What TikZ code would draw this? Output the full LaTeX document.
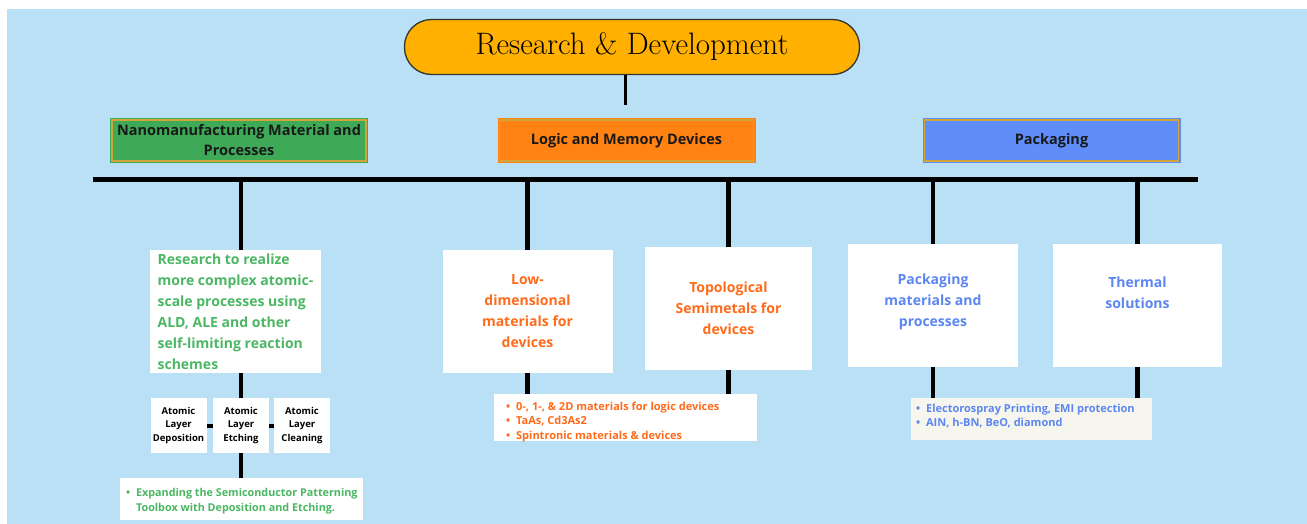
\documentclass[tikz,border=0pt]{standalone}
\usepackage{fontspec}
\newfontfamily\opensans{Open Sans}

\definecolor{bgblue}{HTML}{B9E0F5}
\definecolor{pillgold}{HTML}{FFB000}
\definecolor{hdrgreen}{HTML}{3EAA58}
\definecolor{hdrorange}{HTML}{FF8213}
\definecolor{hdrblue}{HTML}{5F8DF9}
\definecolor{rimgold}{HTML}{D2A53A}
\definecolor{txtgreen}{HTML}{4BB763}
\definecolor{txtorange}{HTML}{FF6B1A}
\definecolor{txtblue}{HTML}{5C86F2}
\definecolor{cream}{HTML}{F7F6EE}

\newcommand{\bul}{\textbullet\hspace{6pt}}

\tikzset{
  hdr/.style={draw=#1, fill=#1, double=rimgold, double distance=1.2pt, line width=1.4pt,
    minimum width=254pt, minimum height=41pt, inner sep=0pt, align=center, text=black!90,
    font=\opensans\bfseries\fontsize{14.5}{20}\selectfont},
  card/.style={fill=white, minimum width=170pt, minimum height=123pt, inner sep=0pt,
    align=center, font=\opensans\bfseries\fontsize{14}{21}\selectfont},
  cardtext/.style={inner sep=0pt, align=center, font=\opensans\bfseries\fontsize{14}{21}\selectfont},
  tiny/.style={fill=white, minimum width=56pt, minimum height=55pt, inner sep=0pt,
    align=center, font=\opensans\bfseries\fontsize{9.5}{13.3}\selectfont},
  note/.style={inner sep=0pt, align=left, font=\opensans\bfseries\fontsize{11}{14.5}\selectfont},
  stem/.style={line width=4.5pt},
}

\begin{document}
\begin{tikzpicture}[x=1pt, y=-1pt]
  \useasboundingbox (0,0) rectangle (1307,524);
  \fill[bgblue] (7,9) rectangle (1307,524);

  % top of the tree
  \node[draw=black!80, fill=pillgold, line width=1.3pt, rounded corners=27pt,
    minimum width=455pt, minimum height=55pt, font=\fontsize{31}{36}\selectfont]
    (rd) at (632,47) {Research \& Development};
  \coordinate (rdend) at (625,105);
  \draw[line width=3pt] (rdend |- rd.south) -- (rdend);

  \node[hdr=hdrgreen] (nano) at (239,140.5) {Nanomanufacturing Material and\\Processes};
  \node[hdr=hdrorange] (logic) at (626.5,140.5) {Logic and Memory Devices};
  \node[hdr=hdrblue] (pack) at (1051.5,140.5) {Packaging};

  \coordinate (barl) at (93,180);
  \coordinate (barr) at (1198,180);
  \draw[line width=5pt] (barl) -- (barr);

  % white cards under the bar
  \node[card, minimum width=171pt, align=left, text=txtgreen] (ald) at (235.5,311.5)
    {Research to realize\\more complex atomic-\\scale processes using\\ALD, ALE and other\\self-limiting reaction\\schemes};
  \node[card, text=txtorange] (lowd) at (527.5,311.5) {Low-\\dimensional\\materials for\\devices};
  \node[card, minimum width=167pt, text=txtorange] (topo) at (728.5,308.5) {Topological\\Semimetals for\\devices};
  \node[card] (pkgmat) at (933,305.5) {};
  \node[cardtext, text=txtblue] at ([yshift=4pt]pkgmat.center) {Packaging\\materials and\\processes};
  \node[card, minimum width=169pt] (therm) at (1137.5,305.5) {};
  \node[cardtext, text=txtblue] at ([yshift=13pt]therm.center) {Thermal\\solutions};

  % atomic layer steps
  \foreach \name/\word/\x in {dep/Deposition/178.5, etch/Etching/241, clean/Cleaning/302}
    \node[tiny] (\name) at (\x,425.5) {Atomic\\Layer\\\word};
  \draw[line width=4pt] (dep.east) -- (etch.west);
  \draw[line width=4pt] (etch.east) -- (clean.west);

  % bullet notes
  \node[fill=white, minimum width=243pt, minimum height=42pt, inner sep=0pt] (gnote) at (241.5,499) {};
  \node[note, text=txtgreen, anchor=west, yshift=-2pt, font=\opensans\bfseries\fontsize{10.8}{14.5}\selectfont]
    at ([xshift=6pt]gnote.west) {\bul Expanding the Semiconductor Patterning\\\hphantom{\bul}Toolbox with Deposition and Etching.};
  \node[fill=white, minimum width=263pt, minimum height=47pt, inner sep=0pt] (onote) at (625.5,417.5) {};
  \node[note, text=txtorange, anchor=west, yshift=-4.5pt] at ([xshift=12pt]onote.west)
    {\bul 0-, 1-, \& 2D materials for logic devices\\\bul TaAs, Cd3As2\\\bul Spintronic materials \& devices};
  \node[fill=cream, minimum width=241pt, minimum height=42pt, inner sep=0pt] (bnote) at (1031.5,419) {};
  \node[note, text=txtblue, anchor=west, yshift=3pt] at ([xshift=5pt]bnote.west)
    {\bul Electorospray Printing, EMI protection\\\bul AIN, h-BN, BeO, diamond};

  % drops
  \draw[stem] (barl -| etch.north) -- (ald.north -| etch.north);
  \draw[stem] (ald.south -| etch.north) -- (etch.north);
  \draw[stem] (etch.south) -- (gnote.north -| etch.south);
  \foreach \n in {lowd, topo, pkgmat, therm}
    \draw[stem] (barl -| \n.north) -- (\n.north);
  \draw[stem] (lowd.south) -- (onote.north -| lowd.south);
  \draw[stem] (topo.south) -- (onote.north -| topo.south);
  \draw[stem] (pkgmat.south) -- (bnote.north -| pkgmat.south);
  \draw[stem] (therm.south) -- (bnote.north -| therm.south);
\end{tikzpicture}
\end{document}
